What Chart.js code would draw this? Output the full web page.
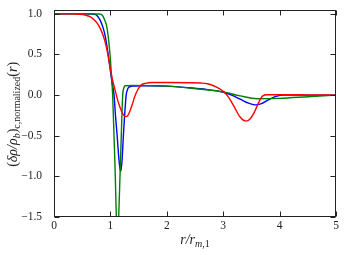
<!DOCTYPE html>
<html><head><meta charset="utf-8">
<script src="https://cdn.jsdelivr.net/npm/chart.js@4/dist/chart.umd.min.js"></script>
<style>html,body{margin:0;padding:0;background:#fff}canvas{display:block}</style>
</head><body>
<canvas id="c" width="346" height="255"></canvas>
<script>
// ---- data ----
const xTicks = [0, 1, 2, 3, 4, 5];
const yTicks = [-1.5, -1.0, -0.5, 0.0, 0.5, 1.0];
const xRange = [0, 5];
const yRange = [-1.5, 1.05];

const blueR = [0, 0.5, 0.7, 0.76, 0.82, 0.87, 0.91, 0.95, 0.99, 1.03, 1.065, 1.09, 1.12, 1.15, 1.18, 1.205, 1.23, 1.255, 1.28, 1.31, 1.35, 1.4, 1.6, 2.0, 2.4, 2.7, 3.0, 3.15, 3.3, 3.45, 3.56, 3.68, 3.8, 3.92, 4.05, 4.3, 5.0];
const blueV = [1.0, 1.0, 0.998, 0.98, 0.92, 0.83, 0.72, 0.55, 0.35, 0.15, 0.0, -0.25, -0.5, -0.78, -0.94, -0.82, -0.5, -0.22, 0.0, 0.08, 0.105, 0.112, 0.115, 0.11, 0.09, 0.07, 0.035, 0.0, -0.05, -0.1, -0.12, -0.105, -0.06, -0.02, 0.0, 0.0, 0.0];

const greenR = [0, 0.5, 0.8, 0.86, 0.9, 0.93, 0.96, 0.98, 1.0, 1.02, 1.04, 1.064, 1.087, 1.105, 1.126, 1.147, 1.17, 1.193, 1.218, 1.24, 1.26, 1.4, 2.0, 2.5, 3.0, 3.3, 3.6, 4.0, 4.5, 5.0];
const greenV = [1.0, 1.0, 0.997, 0.98, 0.92, 0.86, 0.73, 0.6, 0.44, 0.22, 0.0, -0.5, -1.0, -1.5, -1.9, -1.5, -1.0, -0.5, 0.0, 0.09, 0.115, 0.12, 0.11, 0.08, 0.04, -0.01, -0.045, -0.04, -0.02, 0.0];

const redR = [0, 0.35, 0.45, 0.55, 0.64, 0.72, 0.78, 0.84, 0.9, 0.95, 0.99, 1.04, 1.08, 1.12, 1.17, 1.22, 1.27, 1.31, 1.35, 1.39, 1.43, 1.48, 1.54, 1.62, 1.75, 2.0, 2.4, 2.6, 2.72, 2.83, 2.93, 3.02, 3.1, 3.2, 3.3, 3.4, 3.48, 3.56, 3.63, 3.7, 3.78, 4.0, 4.5, 5.0];
const redV = [1.0, 1.0, 0.995, 0.985, 0.965, 0.92, 0.87, 0.79, 0.67, 0.52, 0.36, 0.18, 0.07, -0.04, -0.15, -0.23, -0.265, -0.25, -0.19, -0.11, -0.02, 0.06, 0.12, 0.145, 0.155, 0.155, 0.152, 0.148, 0.14, 0.115, 0.08, 0.035, -0.03, -0.15, -0.27, -0.32, -0.29, -0.2, -0.09, -0.01, 0.005, 0.005, 0.003, 0.0];

const xTitleParts = [
  {t: 'r/r', italic: true}, {t: 'm', italic: true, sub: true}, {t: ',1', sub: true}
];
const yTitleParts = [
  {t: '('}, {t: 'δρ/ρ', italic: true}, {t: 'b', italic: true, sub: true}, {t: ')'},
  {t: 'c,normalized', sub: true}, {t: '('}, {t: 'r', italic: true}, {t: ')'}
];

// ---- drawing ----
const pts = (rs, vs) => rs.map((r, i) => ({x: r, y: vs[i]}));
const SERIF = "'Liberation Serif', 'DejaVu Serif', serif";
const fmt = v => (v < 0 ? '\u2212' : '') + Math.abs(v).toFixed(1);

function drawRich(ctx, parts, cx, baseY, main, sub) {
  const fontOf = p => (p.italic ? 'italic ' : '') + (p.sub ? sub : main) + 'px ' + SERIF;
  let total = 0;
  parts.forEach(p => { ctx.font = fontOf(p); total += ctx.measureText(p.t).width; });
  let x = cx - total / 2;
  ctx.textAlign = 'left'; ctx.textBaseline = 'alphabetic';
  parts.forEach(p => {
    ctx.font = fontOf(p);
    ctx.fillText(p.t, x, baseY + (p.sub ? main * 0.22 : 0));
    x += ctx.measureText(p.t).width;
  });
}

const framePlugin = {
  id: 'frame',
  afterDatasetsDraw(chart) {
    const {ctx, chartArea: a, scales: {x, y}} = chart;
    ctx.save();
    ctx.strokeStyle = '#222';
    ctx.lineWidth = 1;
    const L = Math.round(a.left) + 0.5, R = Math.round(a.right) - 0.5;
    const T = Math.round(a.top) + 0.5, B = Math.round(a.bottom) - 0.5;
    ctx.strokeRect(L, T, R - L, B - T);
    const len = 5;
    ctx.beginPath();
    xTicks.forEach(v => {
      const px = Math.round(x.getPixelForValue(v)) + 0.5;
      ctx.moveTo(px, B); ctx.lineTo(px, B - len);
      ctx.moveTo(px, T); ctx.lineTo(px, T + len);
    });
    yTicks.forEach(v => {
      const py = Math.round(y.getPixelForValue(v)) + 0.5;
      ctx.moveTo(L, py); ctx.lineTo(L + len, py);
      ctx.moveTo(R, py); ctx.lineTo(R - len, py);
    });
    ctx.stroke();
    // axis titles
    ctx.fillStyle = '#222';
    drawRich(ctx, xTitleParts, (a.left + a.right) / 2, 244, 14, 10);
    ctx.translate(13, (a.top + a.bottom) / 2 + 1);
    ctx.rotate(-Math.PI / 2);
    drawRich(ctx, yTitleParts, 0, 4, 14, 10);
    ctx.restore();
  }
};

const lineDs = (label, rs, vs, color) => ({
  label, data: pts(rs, vs), borderColor: color, backgroundColor: color,
  borderWidth: 1.4, pointRadius: 0, fill: false, cubicInterpolationMode: 'monotone'
});

const tickFont = {family: SERIF, size: 11.5, lineHeight: 1};

new Chart(document.getElementById('c'), {
  type: 'line',
  data: {
    datasets: [
      lineDs('red', redR, redV, '#ff0000'),
      lineDs('green', greenR, greenV, '#008000'),
      lineDs('blue', blueR, blueV, '#0000ff')
    ]
  },
  options: {
    responsive: false, animation: false, devicePixelRatio: 1,
    layout: {padding: {top: 6, right: 10, left: 0, bottom: 0}},
    plugins: {legend: {display: false}, tooltip: {enabled: false}},
    scales: {
      x: {
        type: 'linear', min: xRange[0], max: xRange[1],
        grid: {display: false}, border: {display: false},
        ticks: {padding: -5, font: tickFont, color: '#222', callback: v => String(v)},
        afterBuildTicks: s => { s.ticks = xTicks.map(v => ({value: v})); },
        afterFit: s => { s.height = 38; }
      },
      y: {
        type: 'linear', min: yRange[0], max: yRange[1],
        grid: {display: false}, border: {display: false},
        ticks: {padding: 4, font: tickFont, color: '#222', callback: v => fmt(v)},
        afterBuildTicks: s => { s.ticks = yTicks.map(v => ({value: v})); },
        afterFit: s => { s.width = 54; }
      }
    }
  },
  plugins: [framePlugin]
});
</script>
</body></html>
